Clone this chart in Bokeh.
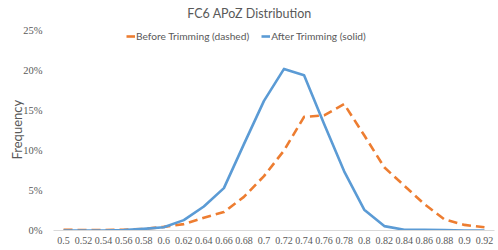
from bokeh.plotting import figure
from bokeh.models import (FactorRange, Range1d, NumeralTickFormatter, FixedTicker,
                          Label, Legend, LegendItem, Title)
from bokeh.embed import file_html
from bokeh.resources import INLINE

categories = ["0.5", "0.52", "0.54", "0.56", "0.58", "0.6", "0.62", "0.64", "0.66", "0.68",
              "0.7", "0.72", "0.74", "0.76", "0.78", "0.8", "0.82", "0.84", "0.86", "0.88",
              "0.9", "0.92"]
before_pct = [0.1, 0.05, 0.05, 0.1, 0.2, 0.45, 0.8, 1.6, 2.3, 4.2, 6.8, 10.0, 14.2, 14.4,
              15.8, 11.9, 7.9, 5.6, 3.3, 1.4, 0.7, 0.4]
after_pct = [0.0, 0.0, 0.0, 0.05, 0.2, 0.4, 1.3, 3.0, 5.3, 10.8, 16.2, 20.2, 19.4, 13.3,
             7.4, 2.6, 0.55, 0.1, 0.1, 0.05, 0.0, 0.0]
y_ticks = [0, 0.05, 0.10, 0.15, 0.20, 0.25]

before = [v / 100 for v in before_pct]
after = [v / 100 for v in after_pct]

TXT = "#595959"
FONT = "Lato"
TICKFONT = "Liberation Sans Narrow"

p = figure(width=498, height=250, output_backend="svg", toolbar_location=None,
           x_range=FactorRange(*categories, range_padding=0),
           y_range=Range1d(0, 0.2875),
           min_border_left=53, min_border_right=4, min_border_top=0, min_border_bottom=20)
p.outline_line_color = None
p.xgrid.grid_line_color = None
p.ygrid.grid_line_color = None

r1 = p.line(categories, before, line_color="#ED7D31", line_width=2.6, line_dash="9 5",
            line_join="round")
r2 = p.line(categories, after, line_color="#5B9BD5", line_width=2.6, line_join="round")

p.yaxis.ticker = FixedTicker(ticks=y_ticks)
p.yaxis.formatter = NumeralTickFormatter(format="0%")
p.yaxis.axis_line_color = None
p.yaxis.major_tick_line_color = None
p.yaxis.minor_tick_line_color = None
p.yaxis.major_tick_out = 0
p.yaxis.major_tick_in = 0
p.yaxis.minor_tick_out = 0
p.yaxis.axis_label_standoff = 0
p.yaxis.major_label_standoff = 11
p.yaxis.major_label_text_font = TICKFONT
p.yaxis.major_label_text_font_size = "10.5px"
p.yaxis.major_label_text_color = TXT

p.xaxis.axis_line_color = "#D9D9D9"
p.xaxis.axis_line_width = 1
p.xaxis.major_tick_line_color = None
p.xaxis.minor_tick_line_color = None
p.xaxis.major_tick_out = 0
p.xaxis.major_tick_in = 0
p.xaxis.minor_tick_out = 0
p.xaxis.axis_label_standoff = 0
p.xaxis.major_label_standoff = 6
p.xaxis.major_label_text_font = TICKFONT
p.xaxis.major_label_text_font_size = "10px"
p.xaxis.major_label_text_color = TXT

# y axis title in the left panel
p.add_layout(Title(text="Frequency", align="left", offset=71, standoff=-8,
                   vertical_align="bottom", text_font=FONT, text_font_size="13px",
                   text_font_style="normal", text_color=TXT), "left")

# chart title (inside the frame area, which reaches the top of the canvas)
p.add_layout(Label(x=249 - 53, y=230 - 13, x_units="screen", y_units="screen",
                   text="FC6 APoZ Distribution", text_font=FONT, text_font_size="12.5px",
                   text_color=TXT, text_align="center", text_baseline="middle"))

legend = Legend(items=[LegendItem(label="Before Trimming (dashed)", renderers=[r1]),
                       LegendItem(label="After Trimming (solid)", renderers=[r2])],
                orientation="horizontal", location=(129 - 53 - 3, 230 - 42),
                glyph_width=9, glyph_height=12, label_standoff=1, spacing=12,
                padding=0, margin=0, border_line_color=None, background_fill_alpha=0,
                label_text_font=FONT, label_text_font_size="10.2px", label_text_color=TXT)
p.add_layout(legend)

open("out.html", "w").write(file_html(p, INLINE))
